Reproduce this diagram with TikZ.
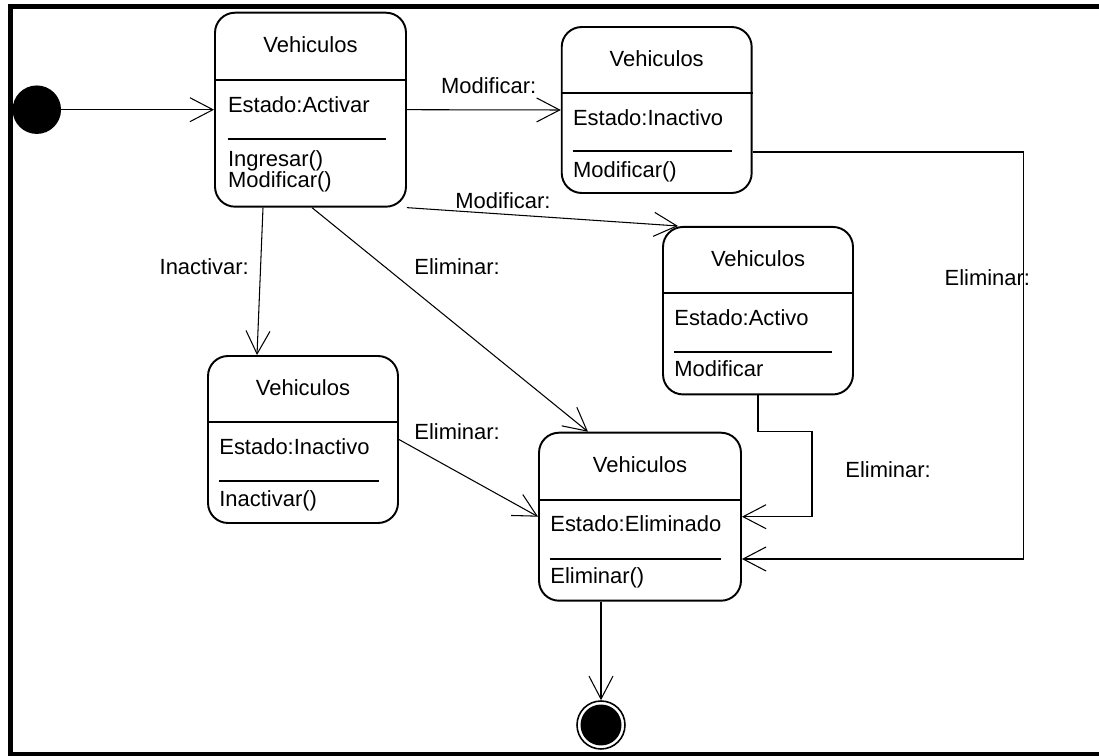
\documentclass[tikz,border=0pt]{standalone}
\usepackage{fontspec}
\setmainfont{Liberation Sans}
\usetikzlibrary{arrows.meta,calc,positioning}

\begin{document}
\begin{tikzpicture}[x=0.02cm, y=-0.02cm,
  every node/.style={font=\fontsize{12.5}{15}\selectfont},
  statebox/.style={rectangle, draw, line width=1.1pt, rounded corners=0.4cm, inner sep=0pt},
  statename/.style={anchor=base, inner sep=0pt},
  attr/.style={anchor=base west, inner sep=0pt},
  divider/.style={line width=1.1pt},
  sepline/.style={line width=0.6pt},
  startstate/.style={circle, fill=black, minimum size=0.97cm, inner sep=0pt},
  endstate/.style={circle, draw, line width=0.9pt, minimum size=0.96cm, inner sep=0pt},
  trans/.style={-{Straight Barb[length=0.46cm, width=0.48cm]}, line width=0.6pt},
  tlabel/.style={anchor=base west, inner sep=0pt}
]
\useasboundingbox (0,0) rectangle (1099,756);

% Frame
\draw[line width=2.55pt] (1105,6.3) -- (10.5,6.3) -- (10.5,754.5) -- (1105,754.5);

% Initial state
\node[startstate] (init) at (36.8,109.7) {};

% Vehiculos - activar
\node[statebox, minimum width=3.82cm, minimum height=3.88cm] (sAct) at (310.5,109.7) {};
\draw[divider] ($(sAct.north west)+(0,68)$) -- ($(sAct.north east)+(0,68)$);
\node[statename] (sAct-name) at (310.5,53) {Vehiculos};
\node[attr] (sAct-attr) at (227.7,113) {Estado:Activar};
\draw[sepline] (227.7,139) -- (386,139);
\node[attr] (sAct-op1) at (227.7,167) {Ingresar()};
\node[attr] (sAct-op2) at (227.7,188) {Modificar()};

% Vehiculos - inactivo (arriba)
\node[statebox, minimum width=3.8cm, minimum height=3.32cm] (sInac1) at (656.7,110) {};
\draw[divider] ($(sInac1.north west)+(0,67)$) -- ($(sInac1.north east)+(0,67)$);
\node[statename] (sInac1-name) at (656.7,67) {Vehiculos};
\node[attr] (sInac1-attr) at (572.7,125.5) {Estado:Inactivo};
\draw[sepline] (572.7,151) -- (731.7,151);
\node[attr] (sInac1-op) at (572.7,177.5) {Modificar()};

% Vehiculos - activo
\node[statebox, minimum width=3.8cm, minimum height=3.35cm] (sActv) at (758,310.7) {};
\draw[divider] ($(sActv.north west)+(0,67)$) -- ($(sActv.north east)+(0,67)$);
\node[statename] (sActv-name) at (758,266.5) {Vehiculos};
\node[attr] (sActv-attr) at (674,325.5) {Estado:Activo};
\draw[sepline] (674,352) -- (832,352);
\node[attr] (sActv-op) at (674,377) {Modificar};

% Vehiculos - inactivo (abajo)
\node[statebox, minimum width=3.8cm, minimum height=3.34cm] (sInac2) at (303,439.5) {};
\draw[divider] ($(sInac2.north west)+(0,67)$) -- ($(sInac2.north east)+(0,67)$);
\node[statename] (sInac2-name) at (303,396) {Vehiculos};
\node[attr] (sInac2-attr) at (219,454.5) {Estado:Inactivo};
\draw[sepline] (219,481) -- (379,481);
\node[attr] (sInac2-op) at (219,507) {Inactivar()};

% Vehiculos - eliminado
\node[statebox, minimum width=4.04cm, minimum height=3.36cm] (sElim) at (640,516.7) {};
\draw[divider] ($(sElim.north west)+(0,68)$) -- ($(sElim.north east)+(0,68)$);
\node[statename] (sElim-name) at (640,473) {Vehiculos};
\node[attr] (sElim-attr) at (550,532) {Estado:Eliminado};
\draw[sepline] (550,559) -- (721,559);
\node[attr] (sElim-op) at (550,583) {Eliminar()};

% Final state
\node[endstate] (fin) at (601,725) {};
\fill (fin.center) circle (0.41cm);

% Transitions
\draw[trans] (init) -- (sAct.west);
\draw[trans] (sAct.east) -- (sInac1.west);
\draw[trans] (sAct.south east) -- ($(sActv.north west)+(16,0)$);
\draw[trans] ($(sAct.south)+(-47.5,0)$) -- ($(sInac2.north)+(-46,0)$);
\draw[trans] ($(sAct.south)+(1.5,0)$) -- ($(sElim.north)+(-52,0)$);
\draw[trans] (sInac2.east) -- (sElim.west);
\draw[trans] (sActv.south) -- ++(0,36.5) -- ++(54,0) |- (sElim.east);
\draw[trans] ($(sInac1.east)+(0,42)$) -- ++(271.3,0) |- ($(sElim.east)+(0,42.3)$);
\draw[trans] ($(sElim.south)+(-39,0)$) -- (fin);

% Labels
\node[tlabel] (lbl-mod1) at (440.7,93.3) {Modificar:};
\node[tlabel] (lbl-mod2) at (455,208.3) {Modificar:};
\node[tlabel] (lbl-inac) at (159.3,275) {Inactivar:};
\node[tlabel] (lbl-elim1) at (414,275) {Eliminar:};
\node[tlabel] (lbl-elim2) at (414,439.5) {Eliminar:};
\node[tlabel] (lbl-elim3) at (845,477.7) {Eliminar:};
\node[tlabel] (lbl-elim4) at (944.3,285.7) {Eliminar:};

\end{tikzpicture}
\end{document}
